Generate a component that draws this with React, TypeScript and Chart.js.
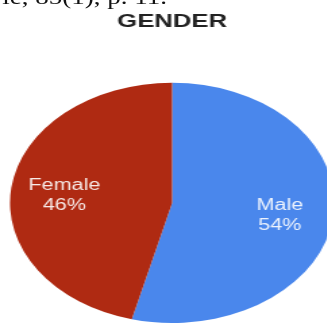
import React, { useEffect, useRef } from "react";
import { Chart, registerables } from "chart.js";

Chart.register(...registerables);

const categories = ["Male", "Female"];
const shares = [54, 46];
const sliceColors = ["#4a87ec", "#af2a12"];
const titleText = "GENDER";
const captionText = "le, 85(1), p. 11.";

const SX = 1.35;
const W0 = 255;
const H = 325;

const labelPlugin = {
  id: "sliceLabels",
  afterDatasetsDraw(chart: any) {
    const ctx = chart.ctx;
    const meta = chart.getDatasetMeta(0);
    const data = chart.data.datasets[0].data as number[];
    const total = data.reduce((a: number, b: number) => a + b, 0);
    ctx.save();
    ctx.font = "16px 'Liberation Sans', Arial, sans-serif";
    ctx.fillStyle = "rgba(255,255,255,0.9)";
    ctx.textAlign = "center";
    ctx.textBaseline = "middle";
    meta.data.forEach((arc: any, i: number) => {
      const p = arc.getProps(["x", "y", "startAngle", "endAngle", "outerRadius"], true);
      const mid = (p.startAngle + p.endAngle) / 2;
      const r = p.outerRadius * 0.67;
      const cx = p.x + Math.cos(mid) * r;
      const cy = p.y + Math.sin(mid) * r + 3;
      ctx.fillText(String(chart.data.labels[i]), cx, cy - 10);
      ctx.fillText(Math.round((data[i] / total) * 100) + "%", cx, cy + 10);
    });
    ctx.restore();
  },
};

export default function App() {
  const ref = useRef<HTMLCanvasElement | null>(null);
  useEffect(() => {
    if (!ref.current) return;
    const chart = new Chart(ref.current, {
      type: "pie",
      data: {
        labels: categories,
        datasets: [
          {
            data: shares,
            backgroundColor: sliceColors,
            borderWidth: 0,
          },
        ],
      },
      options: {
        responsive: false,
        animation: false,
        devicePixelRatio: 1,
        layout: { padding: { top: 0, bottom: 2, left: 0, right: 0 } },
        plugins: {
          legend: { display: false },
          tooltip: { enabled: false },
          title: {
            display: true,
            text: titleText,
            color: "#222",
            font: { family: "'Liberation Sans', Arial, sans-serif", size: 19, weight: "bold", lineHeight: 1.2 },
            padding: { top: 10, bottom: 50 },
          },
        },
      },
      plugins: [labelPlugin],
    });
    return () => chart.destroy();
  }, []);

  return (
    <div
      style={{
        position: "fixed",
        left: 0,
        top: 0,
        width: 327,
        height: 325,
        overflow: "hidden",
        background: "#fff",
      }}
    >
      <div
        style={{
          position: "absolute",
          left: 0,
          top: 0,
          width: W0,
          height: H,
          transform: `scaleX(${SX})`,
          transformOrigin: "0 0",
        }}
      >
        <div
          style={{
            position: "absolute",
            left: -100,
            top: -13,
            width: 223.7,
            textAlign: "right",
            whiteSpace: "nowrap",
            font: "20px 'Liberation Serif', 'Times New Roman', serif",
            lineHeight: "20px",
            color: "#111",
          }}
        >
          {captionText}
        </div>
        <canvas
          ref={ref}
          width={W0}
          height={H}
          style={{ position: "absolute", left: 0, top: 0, display: "block", width: W0, height: H }}
        />
      </div>
    </div>
  );
}
